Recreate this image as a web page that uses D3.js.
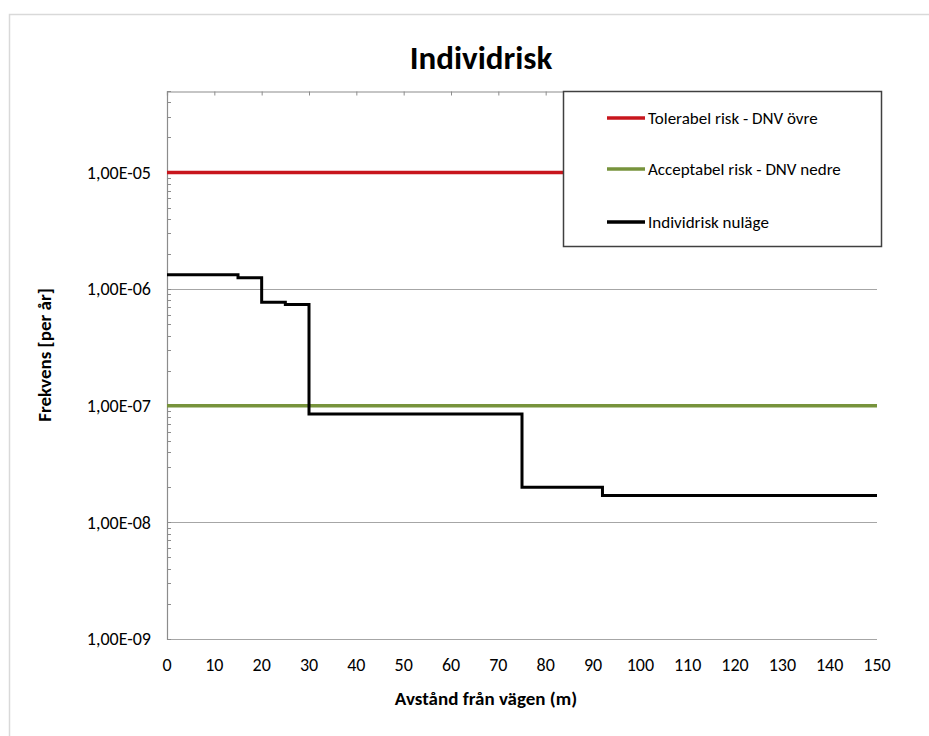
<!DOCTYPE html>
<html>
<head>
    <meta charset="utf-8">
    <title>Individrisk</title>
    <script src="https://cdn.jsdelivr.net/npm/d3@7"></script>
    <style>
        body { margin: 0; background: #fff; }
        svg { display: block; }
        text { font-family: Carlito, "Liberation Sans Narrow", "DejaVu Sans Condensed", "Open Sans", sans-serif; fill: #000; }
    </style>
</head>
<body>
<svg></svg>
<script>
    // chart values
    var xTicks = [0, 10, 20, 30, 40, 50, 60, 70, 80, 90, 100, 110, 120, 130, 140, 150];
    var yTicks = [1e-9, 1e-8, 1e-7, 1e-6, 1e-5];
    var yTickLabels = ["1,00E-09", "1,00E-08", "1,00E-07", "1,00E-06", "1,00E-05"];
    // step curve "Individrisk nuläge" (value holds from x until next x)
    var stepX = [0, 15, 20, 25, 30, 75, 92, 150];
    var stepY = [1.33e-6, 1.25e-6, 7.7e-7, 7.4e-7, 8.5e-8, 2.0e-8, 1.7e-8, 1.7e-8];
    var tolerabel = 1e-5;
    var acceptabel = 1e-7;
    var seriesNames = ["Tolerabel risk - DNV övre", "Acceptabel risk - DNV nedre", "Individrisk nuläge"];
    var seriesColors = ["#C8161D", "#77933C", "#000000"];

    var w = 929, h = 736;
    var plotLeft = 167, plotRight = 877, plotTop = 91, plotBottom = 639;

    var svg = d3.select("svg").attr("width", w).attr("height", h);

    // outer chart frame
    svg.append("rect")
        .attr("x", 9.5).attr("y", 14.5)
        .attr("width", 1000).attr("height", 1000)
        .attr("fill", "none").attr("stroke", "#D9D9D9").attr("stroke-width", 1.5);

    var x = d3.scaleLinear().domain([0, 150]).range([plotLeft, plotRight]);
    var y = d3.scaleLog().domain([1e-9, 5e-5]).range([plotBottom, plotTop]);

    // gridlines on decades
    svg.append("g").selectAll("line")
        .data(yTicks)
        .enter().append("line")
        .attr("x1", plotLeft).attr("x2", plotRight)
        .attr("y1", function(d) { return Math.round(y(d)) + 0.5; })
        .attr("y2", function(d) { return Math.round(y(d)) + 0.5; })
        .attr("stroke", "#A6A6A6").attr("stroke-width", 1);

    // minor ticks on the y axis (1..9 of every decade)
    var minor = [];
    for (var e = -9; e <= -5; e++) {
        for (var m = 1; m <= 9; m++) {
            var v = m * Math.pow(10, e);
            if (v <= 5e-5) minor.push(v);
        }
    }
    svg.append("g").selectAll("line")
        .data(minor)
        .enter().append("line")
        .attr("x1", plotLeft).attr("x2", plotLeft + 4)
        .attr("y1", function(d) { return Math.round(y(d)) + 0.5; })
        .attr("y2", function(d) { return Math.round(y(d)) + 0.5; })
        .attr("stroke", "#8C8C8C").attr("stroke-width", 1);

    // y axis line
    svg.append("line")
        .attr("x1", plotLeft + 0.5).attr("x2", plotLeft + 0.5)
        .attr("y1", plotTop).attr("y2", plotBottom + 1)
        .attr("stroke", "#8C8C8C").attr("stroke-width", 1.2);

    // x axis sits on top of the plot, ticks inside
    var xAxis = d3.axisBottom(x).tickValues(xTicks).tickSize(4).tickFormat("");
    svg.append("g")
        .attr("transform", "translate(0," + (plotTop + 0.5) + ")")
        .call(xAxis)
        .call(function(g) {
            g.select(".domain").attr("stroke", "#8C8C8C").attr("stroke-width", 1.2);
            g.selectAll(".tick line").attr("stroke", "#8C8C8C");
        });

    // x tick labels at the bottom
    svg.append("g").selectAll("text")
        .data(xTicks)
        .enter().append("text")
        .attr("x", function(d) { return x(d); })
        .attr("y", 665)
        .attr("dy", "0.35em")
        .attr("text-anchor", "middle")
        .style("font-size", "18px")
        .text(function(d) { return d; });

    // y tick labels
    svg.append("g").selectAll("text")
        .data(yTicks)
        .enter().append("text")
        .attr("x", 151)
        .attr("y", function(d) { return y(d); })
        .attr("dy", "0.35em")
        .attr("text-anchor", "end")
        .style("font-size", "18px")
        .text(function(d, i) { return yTickLabels[i]; });

    // series
    svg.append("line")
        .attr("x1", x(0)).attr("x2", x(150))
        .attr("y1", y(tolerabel)).attr("y2", y(tolerabel))
        .attr("stroke", seriesColors[0]).attr("stroke-width", 3.5);

    svg.append("line")
        .attr("x1", x(0)).attr("x2", x(150))
        .attr("y1", y(acceptabel)).attr("y2", y(acceptabel))
        .attr("stroke", seriesColors[1]).attr("stroke-width", 3.5);

    var stepLine = d3.line()
        .x(function(d, i) { return x(stepX[i]); })
        .y(function(d) { return y(d); })
        .curve(d3.curveStepAfter);

    svg.append("path")
        .attr("d", stepLine(stepY))
        .attr("fill", "none")
        .attr("stroke", seriesColors[2])
        .attr("stroke-width", 3);

    // legend box
    var lg = svg.append("g");
    lg.append("rect")
        .attr("x", 563.5).attr("y", 91.5)
        .attr("width", 318).attr("height", 155)
        .attr("fill", "#fff").attr("stroke", "#404040").attr("stroke-width", 1.5);
    var legendY = [118, 169, 222];
    seriesNames.forEach(function(name, i) {
        lg.append("line")
            .attr("x1", 607).attr("x2", 645)
            .attr("y1", legendY[i]).attr("y2", legendY[i])
            .attr("stroke", seriesColors[i]).attr("stroke-width", 3.5);
        lg.append("text")
            .attr("x", 648).attr("y", legendY[i])
            .attr("dy", "0.35em")
            .style("font-size", "17px")
            .text(name);
    });

    // titles
    svg.append("text")
        .attr("x", 481).attr("y", 57)
        .attr("dy", "0.35em")
        .attr("text-anchor", "middle")
        .style("font-size", "33px").style("font-weight", "bold")
        .text("Individrisk");

    svg.append("text")
        .attr("x", 486).attr("y", 698)
        .attr("dy", "0.35em")
        .attr("text-anchor", "middle")
        .style("font-size", "19px").style("font-weight", "bold")
        .text("Avstånd från vägen (m)");

    svg.append("text")
        .attr("transform", "translate(44,355) rotate(-90)")
        .attr("dy", "0.35em")
        .attr("text-anchor", "middle")
        .style("font-size", "19px").style("font-weight", "bold")
        .text("Frekvens [per år]");
</script>
</body>
</html>
